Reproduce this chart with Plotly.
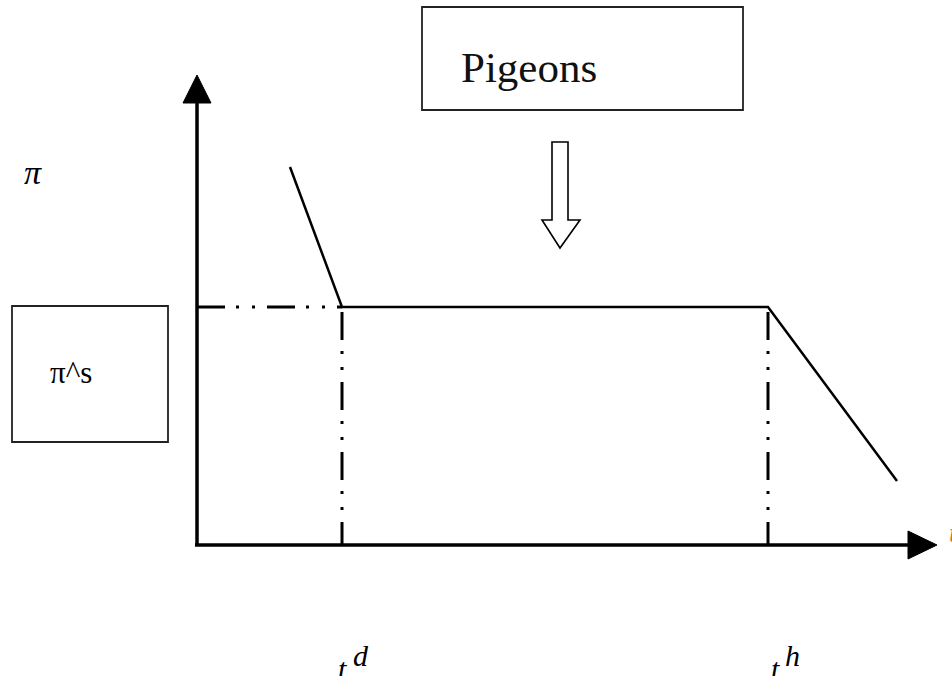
import plotly.graph_objects as go

# ---- data (schematic units: t to the right of the origin, pi above it) ----
t_curve = [93, 145, 571, 700]
pi_curve = [378, 238, 238, 64]
t_d = 145
t_h = 571
pi_s = 238
t_axis_end = 740
pi_axis_end = 470

label_pi = "π"
label_pis = "π^s"
label_box = "Pigeons"
label_t = "t"
label_d = "d"
label_h = "h"

X0, Y0 = 197, 545          # pixel position of the origin (for axis ranges)
W, H = 952, 676

fig = go.Figure()

DASHDOT = "28px,11px,3px,13px,3px,12px"

# dash-dot guides
fig.add_trace(go.Scatter(x=[0, t_d], y=[pi_s, pi_s], mode="lines",
                         line=dict(color="black", width=3, dash=DASHDOT),
                         hoverinfo="skip", showlegend=False))
for tv in (t_d, t_h):
    fig.add_trace(go.Scatter(x=[tv, tv], y=[pi_s - 5, 0], mode="lines",
                             line=dict(color="black", width=3, dash=DASHDOT),
                             hoverinfo="skip", showlegend=False))

# profit curve
fig.add_trace(go.Scatter(x=t_curve, y=pi_curve, mode="lines",
                         line=dict(color="black", width=2.5),
                         hoverinfo="skip", showlegend=False))

shapes = []
# axes
shapes.append(dict(type="line", x0=0, y0=0, x1=0, y1=pi_axis_end - 28,
                   line=dict(color="black", width=3.5)))
shapes.append(dict(type="line", x0=-2, y0=0, x1=t_axis_end - 29, y1=0,
                   line=dict(color="black", width=3.5)))
# arrowheads
shapes.append(dict(type="path",
                   path=f"M -14 {pi_axis_end-28} L 14 {pi_axis_end-28} L 0 {pi_axis_end} Z",
                   fillcolor="black", line=dict(color="black", width=1)))
shapes.append(dict(type="path",
                   path=f"M {t_axis_end-29} -14 L {t_axis_end-29} 14 L {t_axis_end} 0 Z",
                   fillcolor="black", line=dict(color="black", width=1)))
# boxes
shapes.append(dict(type="rect", x0=-185, x1=-29, y0=103, y1=239,
                   line=dict(color="#222", width=1.8), fillcolor="rgba(0,0,0,0)"))
shapes.append(dict(type="rect", x0=225, x1=546, y0=435, y1=538,
                   line=dict(color="#222", width=1.8), fillcolor="rgba(0,0,0,0)"))
# hollow down arrow
shapes.append(dict(type="path",
                   path="M 355 403 L 371 403 L 371 325 L 383 325 L 363 297 L 345 325 L 355 325 Z",
                   fillcolor="white", line=dict(color="black", width=1.6)))

font_serif = "Times New Roman, Liberation Serif, Times, serif"
ann = []
ann.append(dict(x=-164, y=373, text=f"<i>{label_pi}</i>", showarrow=False,
                font=dict(family=font_serif, size=34, color="black")))
ann.append(dict(x=-126, y=173, text=label_pis, showarrow=False,
                font=dict(family=font_serif, size=31, color="black")))
ann.append(dict(x=262, y=478, text=label_box, showarrow=False, xanchor="left",
                font=dict(family=font_serif, size=43, color="#111")))
ann.append(dict(x=t_d, y=-123, text=f"<i>{label_t}</i>", showarrow=False,
                font=dict(family=font_serif, size=30, color="black")))
ann.append(dict(x=t_d + 19, y=-110, text=f"<i>{label_d}</i>", showarrow=False,
                font=dict(family=font_serif, size=30, color="black")))
ann.append(dict(x=t_h + 7, y=-123, text=f"<i>{label_t}</i>", showarrow=False,
                font=dict(family=font_serif, size=30, color="black")))
ann.append(dict(x=t_h + 24, y=-110, text=f"<i>{label_h}</i>", showarrow=False,
                font=dict(family=font_serif, size=30, color="black")))
ann.append(dict(x=t_axis_end + 10, y=13, text=f"<i>{label_t}</i>", showarrow=False,
                xanchor="left", font=dict(family=font_serif, size=28, color="#c87a20")))

fig.update_layout(
    width=W, height=H,
    margin=dict(l=0, r=0, t=0, b=0, autoexpand=False),
    paper_bgcolor="white", plot_bgcolor="white",
    xaxis=dict(range=[-X0, W - X0], visible=False, fixedrange=True),
    yaxis=dict(range=[Y0 - H, Y0], visible=False, fixedrange=True),
    shapes=shapes, annotations=ann, showlegend=False,
)

fig.write_html("out.html", config={"displayModeBar": False},
               post_script="document.body.style.margin='0';document.body.style.overflow='hidden';")
